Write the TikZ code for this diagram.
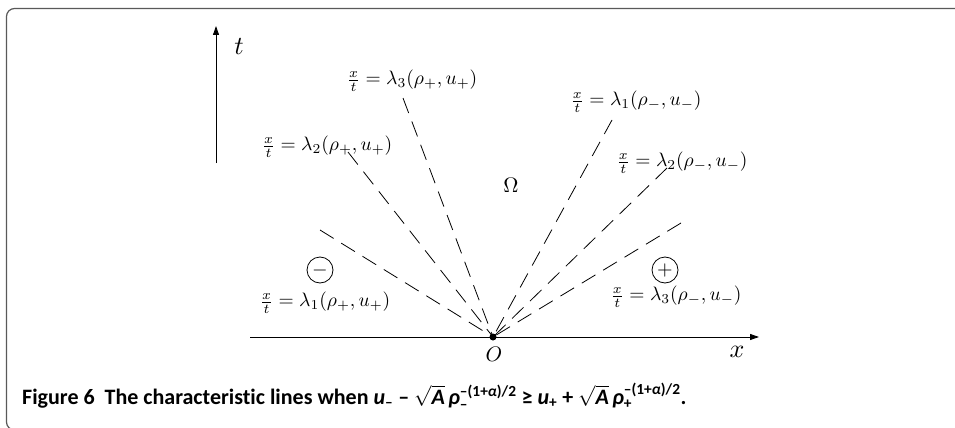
\documentclass[tikz,border=0pt]{standalone}
\usepackage{amsmath}
\usepackage{fontspec}
\newfontfamily\capfont[Ligatures=NoCommon]{Carlito}
\usetikzlibrary{arrows.meta}
\begin{document}
\begin{tikzpicture}[x=1pt,y=-1pt,
  frame/.style={draw=black!65,line width=1.2pt,rounded corners=8pt},
  axis/.style={line width=0.9pt,-{Triangle[length=9pt,width=6pt]}},
  charline/.style={line width=0.8pt,dash pattern=on 16pt off 9pt},
  lab/.style={scale=1.95,inner sep=0pt},
  sgn/.style={draw,circle,line width=0.8pt,minimum size=26pt,inner sep=0pt}]
\useasboundingbox (0,0) rectangle (955,428);
% frame
\draw[frame] (40,430) -- (6.5,430) -- (6.5,8.5) -- (970,8.5);
% axes
\coordinate (tb) at (216,163);
\coordinate (tt) at (216,26);
\draw[axis] (tb) -- (tt);
\coordinate (xl) at (250,337);
\coordinate (xr) at (759,337);
\draw[axis] (xl) -- (xr);
\node[scale=2.6] (tl) at (239,47) {$t$};
\node[scale=2.6] (xlab) at (737,352) {$x$};
\node[circle,fill,inner sep=0pt,minimum size=7pt] (O) at (493,337) {};
\node[scale=2.1] (Olab) at (494,354) {$O$};
\node[scale=2.1] (Om) at (511,185) {$\Omega$};
% characteristic lines
\coordinate (a1) at (320,230);
\coordinate (a2) at (348,152);
\coordinate (a3) at (403,98);
\coordinate (b1) at (612,120);
\coordinate (b2) at (667,168);
\coordinate (b3) at (681,223);
\foreach \p in {a1,a2,a3,b1,b2,b3} \draw[charline] (\p) -- (O.center);
% labels
\node[lab] (la3) at (412,81) {$\frac{x}{t}=\lambda_3(\rho_+,u_+)$};
\node[lab] (la2) at (327,147) {$\frac{x}{t}=\lambda_2(\rho_+,u_+)$};
\node[lab] (la1) at (325,303) {$\frac{x}{t}=\lambda_1(\rho_+,u_+)$};
\node[lab] (lb1) at (636,102) {$\frac{x}{t}=\lambda_1(\rho_-,u_-)$};
\node[lab] (lb2) at (682,163) {$\frac{x}{t}=\lambda_2(\rho_-,u_-)$};
\node[lab] (lb3) at (676,297) {$\frac{x}{t}=\lambda_3(\rho_-,u_-)$};
% signs
\node[sgn] (minus) at (320,270) {};
\node[scale=2] at (minus.center) {$-$};
\node[sgn] (plus) at (665,270) {};
\node[scale=2] at (plus.center) {$+$};
% caption
\node[anchor=base west,inner sep=0pt,font=\capfont\bfseries\fontsize{22}{26}\selectfont] (cap) at (22,404)
 {Figure 6\ \ The characteristic lines when \textit{u}\textsubscript{–} – $\sqrt{\text{\textit{A}}}\,\text{\textit{ρ}}_{\text{–}}^{\text{–(1+\textit{α})/2}}$ ≥ \textit{u}\textsubscript{+} + $\sqrt{\text{\textit{A}}}\,\text{\textit{ρ}}_{\text{+}}^{\text{–(1+\textit{α})/2}}$.};
\end{tikzpicture}
\end{document}
